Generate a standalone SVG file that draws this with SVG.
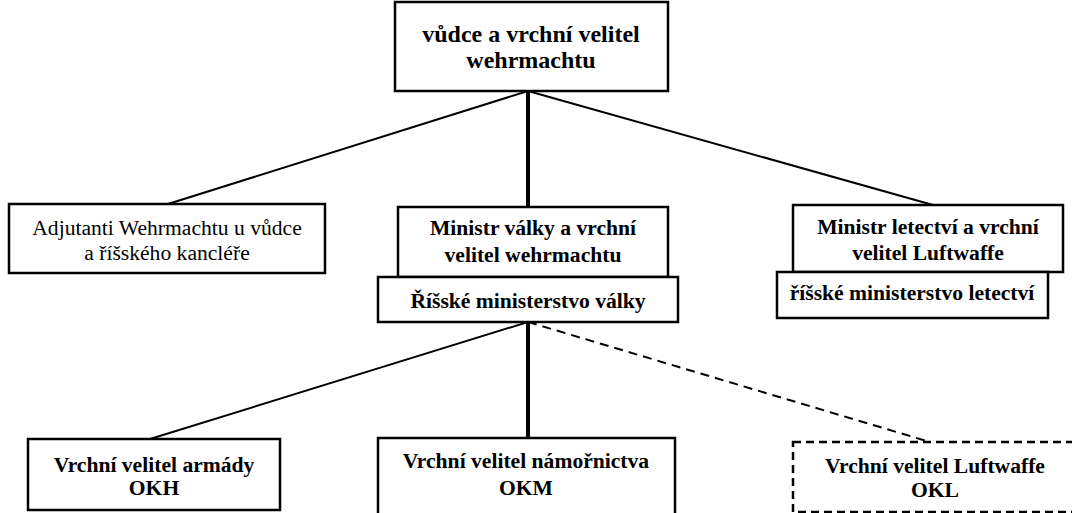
<svg xmlns="http://www.w3.org/2000/svg" width="1072" height="513" viewBox="0 0 1072 513">
<style>
.box{fill:#fff;stroke:#000;stroke-width:2.5}
.dbox{fill:#fff;stroke:#000;stroke-width:2.5;stroke-dasharray:8,5}
.t{font-family:"Liberation Serif","Times New Roman",serif;font-size:21.6px;font-weight:bold;text-anchor:middle;fill:#000}
.r{font-weight:normal}
.big{font-size:24px}
.ln{stroke:#000;stroke-width:2;fill:none}
.thick{stroke:#000;stroke-width:4;fill:none}
.dash{stroke:#000;stroke-width:2;fill:none;stroke-dasharray:9,6}
</style>
<rect width="1072" height="513" fill="#fff"/>
<g id="connectors">
<line class="ln" x1="528" y1="91" x2="168" y2="204"/>
<line class="thick" x1="528" y1="91" x2="528" y2="207"/>
<line class="ln" x1="528" y1="91" x2="933" y2="205"/>
<line class="ln" x1="528" y1="322" x2="150" y2="439"/>
<line class="thick" x1="528" y1="322" x2="528" y2="438"/>
<line class="dash" x1="528" y1="322" x2="930" y2="442"/>
</g>
<g id="n-vudce">
<rect class="box" x="395" y="2" width="273" height="89"/>
<text class="t big" x="531" y="42">vůdce a vrchní velitel</text>
<text class="t big" x="531" y="68">wehrmachtu</text>
</g>
<g id="n-adjutanti">
<rect class="box" x="9" y="204" width="316" height="69"/>
<text class="t r" x="167" y="235">Adjutanti Wehrmachtu u vůdce</text>
<text class="t r" x="167" y="260">a říšského kancléře</text>
</g>
<g id="n-ministr-valky">
<rect class="box" x="398" y="207" width="270" height="70"/>
<text class="t" x="533" y="235">Ministr války a vrchní</text>
<text class="t" x="533" y="262">velitel wehrmachtu</text>
</g>
<g id="n-rm-valky">
<rect class="box" x="378" y="277" width="300" height="45"/>
<text class="t" x="528" y="308">Říšské ministerstvo války</text>
</g>
<g id="n-ministr-letectvi">
<rect class="box" x="793" y="205" width="270" height="67"/>
<text class="t" x="928" y="234">Ministr letectví a vrchní</text>
<text class="t" x="928" y="260">velitel Luftwaffe</text>
</g>
<g id="n-rm-letectvi">
<rect class="box" x="777" y="272" width="271" height="46"/>
<text class="t" x="912" y="300">říšské ministerstvo letectví</text>
</g>
<g id="n-okh">
<rect class="box" x="28" y="439" width="252" height="71"/>
<text class="t" x="154" y="472">Vrchní velitel armády</text>
<text class="t" x="154" y="495">OKH</text>
</g>
<g id="n-okm">
<rect class="box" x="378" y="438" width="297" height="90"/>
<text class="t" x="526" y="468">Vrchní velitel námořnictva</text>
<text class="t" x="526" y="495">OKM</text>
</g>
<g id="n-okl">
<rect class="dbox" x="793" y="442" width="290" height="70"/>
<text class="t" x="935" y="473">Vrchní velitel Luftwaffe</text>
<text class="t" x="935" y="497">OKL</text>
</g>
</svg>
